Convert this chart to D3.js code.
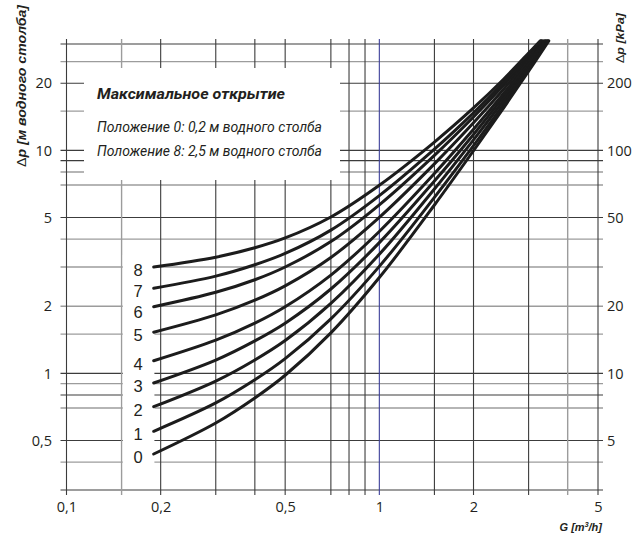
<!DOCTYPE html>
<html>
<head>
<meta charset="utf-8">
<script src="https://cdn.jsdelivr.net/npm/d3@7"></script>
<style>
  html, body { margin: 0; padding: 0; background: #ffffff; }
  svg { display: block; }
</style>
</head>
<body>
<svg id="chart" width="637" height="536"></svg>
<script>
// Flow axis (m³/h): labelled ticks and grid lines
const flowTicks = [0.1, 0.2, 0.5, 1, 2, 5];
const flowTickLabels = ["0,1", "0,2", "0,5", "1", "2", "5"];
const flowGrid = [0.1, 0.15, 0.2, 0.3, 0.4, 0.5, 0.7, 0.8, 0.9, 1, 1.5, 2, 3, 4, 5];
const flowGridLight = [0.15, 4];

// Pressure-drop axis (m water column / kPa)
const headTicks = [20, 10, 5, 2, 1, 0.5];
const headTickLabels = ["20", "10", "5", "2", "1", "0,5"];
const kpaTicks = [200, 100, 50, 20, 10, 5];
const headGrid = [30, 25, 20, 15, 10, 9, 8, 7, 5, 4, 3, 2, 1.5, 1, 0.9, 0.8, 0.7, 0.5, 0.4, 0.3];
const headGridLight = [25, 15, 8, 7, 4, 3, 2, 1.5, 0.9, 0.7, 0.4];

// Preset positions and their Δp curves, sampled at these flows
const positions = ["0", "1", "2", "3", "4", "5", "6", "7", "8"];
const flowSamples = [0.19, 0.3, 0.4, 0.5, 0.7, 1, 1.5, 2, 2.5, 3];
const headPos0 = [0.435, 0.599, 0.776, 0.981, 1.519, 2.69, 5.69, 9.97, 15.57, 22.64];
const headPos1 = [0.55, 0.737, 0.936, 1.164, 1.756, 3.02, 6.16, 10.51, 16.14, 23.16];
const headPos2 = [0.709, 0.924, 1.149, 1.404, 2.06, 3.42, 6.71, 11.15, 16.78, 23.73];
const headPos3 = [0.906, 1.148, 1.40, 1.68, 2.39, 3.86, 7.29, 11.79, 17.42, 24.3];
const headPos4 = [1.14, 1.41, 1.68, 1.99, 2.76, 4.33, 7.87, 12.43, 18.04, 24.84];
const headPos5 = [1.53, 1.83, 2.13, 2.47, 3.31, 5.01, 8.70, 13.29, 18.86, 25.56];
const headPos6 = [1.99, 2.31, 2.63, 3.00, 3.90, 5.70, 9.50, 14.11, 19.63, 26.2];
const headPos7 = [2.41, 2.73, 3.07, 3.45, 4.39, 6.27, 10.13, 14.74, 20.2, 26.7];
const headPos8 = [3.0, 3.32, 3.66, 4.05, 5.03, 6.98, 10.9, 15.5, 20.9, 27.3];
const endFlow = [3.48, 3.455, 3.43, 3.40, 3.375, 3.34, 3.31, 3.29, 3.27];
const endHead = 31;

const headSeries = [headPos0, headPos1, headPos2, headPos3, headPos4,
                    headPos5, headPos6, headPos7, headPos8];

const svg = d3.select("#chart");
const ink = "#231f20";

const x = d3.scaleLog().domain([0.1, 5]).range([66.5, 598]);
const y = d3.scaleLog().domain([0.3, 30]).range([490, 44]);
const yKpa = d3.scaleLog().domain([3, 300]).range([490, 44]);

const x0 = x.range()[0], x1 = x.range()[1];
const yBottom = y.range()[0], yTop = y.range()[1];
const ext = 5;

// Grid
const grid = svg.append("g").attr("class", "grid");
grid.selectAll("line.h")
  .data(headGrid)
  .join("line")
  .attr("class", "h")
  .attr("x1", x0 - 6).attr("x2", x1 + ext)
  .attr("y1", d => y(d)).attr("y2", d => y(d))
  .attr("stroke", d => headGridLight.includes(d) ? "#9c9c9c" : "#3c3c3c")
  .attr("stroke-width", d => headGridLight.includes(d) ? 1.4 : 1.1);

grid.selectAll("line.v")
  .data(flowGrid)
  .join("line")
  .attr("class", "v")
  .attr("x1", d => x(d)).attr("x2", d => x(d))
  .attr("y1", yTop - ext).attr("y2", yBottom + ext)
  .attr("stroke", d => d === 1 ? "#3b3f9a" : (flowGridLight.includes(d) ? "#9c9c9c" : "#3c3c3c"))
  .attr("stroke-width", d => flowGridLight.includes(d) ? 1.4 : 1.1);

// White panel for the legend text
svg.append("rect")
  .attr("x", 84).attr("y", 68)
  .attr("width", 256).attr("height", 112)
  .attr("fill", "#ffffff");

// White strip behind the position numbers
svg.append("rect")
  .attr("x", x(0.15) + 1.2).attr("y", y(3.4))
  .attr("width", x(0.19) - x(0.15) - 0.5)
  .attr("height", y(0.37) - y(3.4))
  .attr("fill", "#ffffff");

// Curves
const line = d3.line()
  .x(d => x(d[0]))
  .y(d => y(d[1]))
  .curve(d3.curveCatmullRom.alpha(0.5));

const curveData = headSeries.map((vals, i) =>
  flowSamples.map((g, j) => [g, vals[j]]).concat([[endFlow[i], endHead]]));

svg.append("g").attr("class", "curves")
  .selectAll("path")
  .data(curveData)
  .join("path")
  .attr("d", line)
  .attr("fill", "none")
  .attr("stroke", "#1c1c1c")
  .attr("stroke-width", 3)
  .attr("stroke-linecap", "round");

// Position numbers, placed next to each curve start and kept from touching
const labelY = [];
for (let i = positions.length - 1; i >= 0; i--) {
  let yy = y(headSeries[i][0]) + 3;
  if (i < positions.length - 1) yy = Math.max(yy, labelY[i + 1] + 20.5);
  labelY[i] = yy;
}
svg.append("g").attr("class", "pos-labels")
  .selectAll("text")
  .data(positions)
  .join("text")
  .attr("x", 138)
  .attr("y", (d, i) => labelY[i])
  .attr("dy", "0.36em")
  .attr("text-anchor", "middle")
  .attr("font-family", "'Liberation Sans', Arial, sans-serif")
  .attr("font-size", 16.5)
  .attr("fill", ink)
  .text(d => d);

// Axes labels
const tickFont = "'Open Sans', 'Noto Sans', sans-serif";

const leftAxis = svg.append("g")
  .attr("transform", `translate(${x0},0)`)
  .call(d3.axisLeft(y).tickValues(headTicks)
    .tickFormat((d, i) => headTickLabels[i]).tickSize(0).tickPadding(x0 - 52));
const rightAxis = svg.append("g")
  .attr("transform", `translate(${x1},0)`)
  .call(d3.axisRight(yKpa).tickValues(kpaTicks)
    .tickFormat(d3.format("d")).tickSize(0).tickPadding(9));
const bottomAxis = svg.append("g")
  .attr("transform", `translate(0,${yBottom})`)
  .call(d3.axisBottom(x).tickValues(flowTicks)
    .tickFormat((d, i) => flowTickLabels[i]).tickSize(0).tickPadding(12));

[leftAxis, rightAxis, bottomAxis].forEach(g => {
  g.select(".domain").remove();
  g.selectAll("text")
    .attr("font-family", tickFont)
    .attr("font-size", 14.5)
    .attr("fill", ink);
});

// Axis titles
const leftTitle = svg.append("text")
  .attr("transform", "translate(26,86) rotate(-90)")
  .attr("text-anchor", "middle")
  .attr("font-family", "'Liberation Sans Narrow', 'Liberation Sans', sans-serif")
  .attr("font-size", 12.5)
  .attr("font-style", "italic")
  .attr("font-weight", "bold")
  .attr("fill", ink)
  .attr("textLength", 162)
  .attr("lengthAdjust", "spacingAndGlyphs");
leftTitle.append("tspan").attr("font-weight", "normal").attr("font-style", "normal").text("Δ");
leftTitle.append("tspan").text("p [м водного столба]");

const rightTitle = svg.append("text")
  .attr("transform", "translate(624,38) rotate(-90)")
  .attr("text-anchor", "middle")
  .attr("font-family", "'Liberation Sans Narrow', 'Liberation Sans', sans-serif")
  .attr("font-size", 10.5)
  .attr("font-style", "italic")
  .attr("font-weight", "bold")
  .attr("fill", ink)
  .attr("textLength", 50)
  .attr("lengthAdjust", "spacingAndGlyphs");
rightTitle.append("tspan").attr("font-weight", "normal").attr("font-style", "normal").text("Δ");
rightTitle.append("tspan").text("p [kPa]");

const flowTitle = svg.append("text")
  .attr("x", 602).attr("y", 531)
  .attr("text-anchor", "end")
  .attr("font-family", "'Liberation Sans', Arial, sans-serif")
  .attr("font-size", 11)
  .attr("font-style", "italic")
  .attr("font-weight", "bold")
  .attr("fill", ink);
flowTitle.append("tspan").text("G [m");
flowTitle.append("tspan").attr("font-size", 7).attr("dy", -4).text("3");
flowTitle.append("tspan").attr("dy", 4).text("/h]");

// Legend text
const legend = svg.append("g")
  .attr("font-family", "'Liberation Sans Narrow', 'Roboto', sans-serif")
  .attr("font-style", "italic")
  .attr("fill", ink);
legend.append("text")
  .attr("x", 97).attr("y", 99)
  .attr("font-size", 15.5).attr("font-weight", "bold")
  .attr("textLength", 188).attr("lengthAdjust", "spacingAndGlyphs")
  .text("Максимальное открытие");
legend.append("text")
  .attr("x", 97).attr("y", 132)
  .attr("font-size", 14.5)
  .attr("textLength", 225).attr("lengthAdjust", "spacingAndGlyphs")
  .text("Положение 0: 0,2 м водного столба");
legend.append("text")
  .attr("x", 97).attr("y", 156)
  .attr("font-size", 14.5)
  .attr("textLength", 225).attr("lengthAdjust", "spacingAndGlyphs")
  .text("Положение 8: 2,5 м водного столба");
</script>
</body>
</html>
